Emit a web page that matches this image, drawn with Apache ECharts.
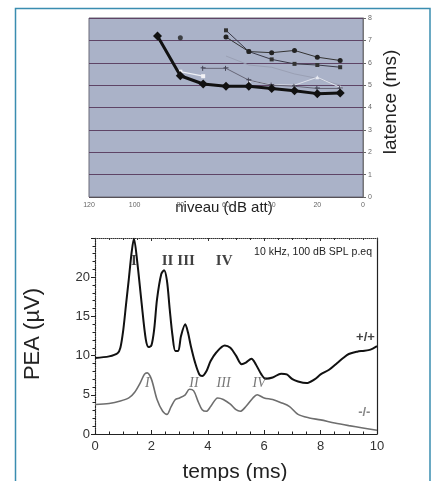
<!DOCTYPE html>
<html><head><meta charset="utf-8">
<script src="https://cdn.jsdelivr.net/npm/echarts@6/dist/echarts.min.js"></script>
<style>html,body{margin:0;padding:0;background:#fff}#c{width:433px;height:481px}</style>
</head><body><div id="c"></div>
<script>
// ---------- top chart: latency vs level ----------
const levelMin = 0, levelMax = 120, levelStep = 20;
const latMin = 0, latMax = 8, latStep = 1;
const latThick   = [[90,7.2],[80,5.42],[70,5.05],[60,4.95],[50,4.95],[40,4.85],[30,4.75],[20,4.62],[10,4.65]];
const latSingle  = [[80,7.12]];
const latCircles = [[60,7.15],[50,6.5],[40,6.45],[30,6.55],[20,6.25],[10,6.1]];
const latCross   = [[60,7.45],[50,6.5],[40,6.15],[30,5.95],[20,5.9],[10,5.8]];
const latFaint   = [[60,6.3],[50,5.9],[40,5.8],[30,5.5],[20,5.3],[10,5.0]];
const latPlus    = [[70,5.75],[60,5.75],[50,5.22],[40,5.0],[30,4.95],[20,4.85],[10,4.85]];
const latLight   = [[80,5.6],[70,5.4]];
const latTri     = [[50,5.2],[40,5.02],[30,5.0],[20,5.35],[10,4.9]];

// ---------- bottom chart: ABR waveforms ----------
const timeMin = 0, timeMax = 10, timeStep = 2;
const peaMin = 0, peaMax = 25, peaStep = 5;
const wildType = [[0,9.7],[0.5,9.9],[0.8,10.3],[0.9,11],[1.0,13.2],[1.1,16.5],[1.2,19.8],[1.3,23.2],[1.38,24.9],[1.5,21.9],[1.65,16.8],[1.8,12.1],[1.9,11.1],[2.0,11.3],[2.1,13.4],[2.2,17.2],[2.35,20.4],[2.45,20.9],[2.55,19.6],[2.65,15.9],[2.75,12.5],[2.85,10.6],[2.95,10.6],[3.05,12.5],[3.2,14.0],[3.3,12.9],[3.4,11.2],[3.55,9.1],[3.7,7.6],[3.8,7.4],[3.95,8.0],[4.1,9.3],[4.3,10.4],[4.6,11.3],[4.8,11.0],[5.0,10.0],[5.2,8.9],[5.35,9.1],[5.55,9.6],[5.7,8.9],[5.9,7.6],[6.05,7.05],[6.3,7.2],[6.6,7.7],[6.8,7.6],[7.0,7.0],[7.2,6.7],[7.5,6.5],[7.8,7.0],[8.0,7.6],[8.3,8.2],[8.6,9.1],[8.8,9.7],[9.0,10.2],[9.3,10.5],[9.5,10.6],[9.7,10.7],[9.85,10.9],[10,11.2]];
const mutant = [[0,3.76],[0.5,3.9],[0.9,4.2],[1.2,4.6],[1.4,5.3],[1.6,6.5],[1.75,7.6],[1.85,7.8],[2.0,7.0],[2.2,4.4],[2.4,2.9],[2.55,2.5],[2.7,3.5],[2.85,4.4],[3.0,4.6],[3.2,5.0],[3.35,5.7],[3.5,5.5],[3.65,4.2],[3.8,3.1],[3.95,2.9],[4.1,3.5],[4.35,4.6],[4.55,4.4],[4.8,3.8],[5.0,3.1],[5.15,2.9],[5.35,3.5],[5.6,4.6],[5.75,5.0],[6.0,4.6],[6.3,4.4],[6.6,4.0],[6.9,3.5],[7.2,2.5],[7.6,2.05],[8.0,1.8],[8.5,1.4],[9.0,1.07],[9.5,0.77],[10,0.47]];
const wtWaveLabels  = [{name:'I',value:[1.38,22]},{name:'II',value:[2.57,22]},{name:'III',value:[3.23,22]},{name:'IV',value:[4.58,22]}];
const mutWaveLabels = [{name:'I',value:[1.86,6.5]},{name:'II',value:[3.51,6.5]},{name:'III',value:[4.56,6.5]},{name:'IV',value:[5.82,6.5]}];
const genotypeLabels = [{name:'+/+',value:[9.59,12.3],c:'#111'},{name:'-/-',value:[9.55,2.8],c:'#666'}];

const chart = echarts.init(document.getElementById('c'), null, {renderer:'canvas'});
const SANS = 'Liberation Sans, Arial, sans-serif';
const SERIF = 'Liberation Serif, Times New Roman, serif';

function labelSeries(data, xi, yi, font, color, weight, style){
  return {type:'scatter', xAxisIndex:xi, yAxisIndex:yi, symbolSize:0, silent:true, z:5,
    data:data.map(d=>({name:d.name,value:d.value,label:{color:d.c||color}})),
    label:{show:true, position:'inside', formatter:p=>p.name, fontFamily:font, fontSize:style.size,
      fontWeight:weight, fontStyle:style.italic?'italic':'normal', color:color}};
}

chart.setOption({
  animation:false,
  backgroundColor:'#fff',
  grid:[
    {left:89, top:18, width:274, height:179, show:true, backgroundColor:'#aab2c8', borderColor:'#6b6b78', borderWidth:1},
    {left:95, top:238, width:282, height:196, show:false}
  ],
  xAxis:[
    {gridIndex:0, type:'value', min:levelMin, max:levelMax, interval:levelStep, inverse:true,
     axisLine:{show:true, lineStyle:{color:'#555', type:'dotted'}}, axisTick:{show:false}, splitLine:{show:false},
     axisLabel:{fontSize:7, color:'#666', margin:5, fontFamily:SANS}},
    {gridIndex:1, type:'value', min:timeMin, max:timeMax, interval:timeStep,
     axisLine:{show:true, onZero:false, lineStyle:{color:'#222', width:1.2}},
     axisTick:{show:true, inside:true, length:4, lineStyle:{color:'#222'}},
     minorTick:{show:true, splitNumber:4, length:2.5, lineStyle:{color:'#222'}},
     splitLine:{show:false},
     axisLabel:{fontSize:13, color:'#333', margin:6, fontFamily:SANS}},
    {gridIndex:1, type:'value', position:'top', min:timeMin, max:timeMax, interval:timeStep,
     axisLine:{show:true, onZero:false, lineStyle:{color:'#333', width:1, type:'dotted'}},
     axisTick:{show:true, inside:true, length:3, lineStyle:{color:'#333'}},
     minorTick:{show:true, splitNumber:4, length:2, lineStyle:{color:'#333'}},
     splitLine:{show:false}, axisLabel:{show:false}}
  ],
  yAxis:[
    {gridIndex:0, type:'value', position:'right', min:latMin, max:latMax, interval:latStep,
     axisLine:{show:true, lineStyle:{color:'#777'}}, axisTick:{show:true, length:3, lineStyle:{color:'#666'}},
     splitLine:{show:true, lineStyle:{color:'#5e4466', width:1.2}},
     axisLabel:{fontSize:7, color:'#666', margin:5, fontFamily:SANS}},
    {gridIndex:1, type:'value', min:peaMin, max:peaMax, interval:peaStep,
     axisLine:{show:true, onZero:false, lineStyle:{color:'#222', width:1.2, type:'dotted'}},
     axisTick:{show:true, length:4, lineStyle:{color:'#222'}},
     minorTick:{show:true, splitNumber:5, length:2.5, lineStyle:{color:'#222'}},
     splitLine:{show:false},
     axisLabel:{fontSize:13, color:'#333', margin:5, fontFamily:SANS, formatter:v=>v===25?'':String(v)}},
    {gridIndex:1, type:'value', position:'right', min:peaMin, max:peaMax, interval:peaStep,
     axisLine:{show:true, onZero:false, lineStyle:{color:'#222', width:1.2}},
     axisTick:{show:false}, splitLine:{show:false}, axisLabel:{show:false}}
  ],
  series:[
    {type:'line', xAxisIndex:0, yAxisIndex:0, data:latFaint, symbol:'none', lineStyle:{color:'#9aa0b4', width:1}, z:2},
    {type:'line', xAxisIndex:0, yAxisIndex:0, data:latTri, symbol:'triangle', symbolSize:4, itemStyle:{color:'#e8eaf2'}, lineStyle:{color:'#dfe2ec', width:1}, z:2},
    {type:'line', xAxisIndex:0, yAxisIndex:0, data:latPlus, symbol:'path://M0,4H10M4,0V10', symbolSize:5, itemStyle:{color:'#556', borderColor:'#445'}, lineStyle:{color:'#667', width:1}, z:3},
    {type:'line', xAxisIndex:0, yAxisIndex:0, data:latLight, symbol:'rect', symbolSize:4, itemStyle:{color:'#f2f2f6'}, lineStyle:{color:'#eef0f6', width:1.2}, z:3},
    {type:'line', xAxisIndex:0, yAxisIndex:0, data:latCross, symbol:'rect', symbolSize:4, itemStyle:{color:'#333'}, lineStyle:{color:'#3a3a48', width:1}, z:3},
    {type:'line', xAxisIndex:0, yAxisIndex:0, data:latCircles, symbol:'circle', symbolSize:5, itemStyle:{color:'#222'}, lineStyle:{color:'#333', width:1}, z:3},
    {type:'scatter', xAxisIndex:0, yAxisIndex:0, data:latSingle, symbol:'circle', symbolSize:5, itemStyle:{color:'#222'}, z:3},
    {type:'line', xAxisIndex:0, yAxisIndex:0, data:latThick, symbol:'diamond', symbolSize:9, itemStyle:{color:'#111'}, lineStyle:{color:'#111', width:3}, z:4},

    {type:'line', xAxisIndex:1, yAxisIndex:1, data:mutant, symbol:'none', smooth:0.3, lineStyle:{color:'#6e6e6e', width:1.6}, z:3},
    {type:'line', xAxisIndex:1, yAxisIndex:1, data:wildType, symbol:'none', smooth:0.3, lineStyle:{color:'#111', width:2}, z:4},
    labelSeries(wtWaveLabels, 1, 1, SERIF, '#111', 'bold', {size:15}),
    labelSeries(mutWaveLabels, 1, 1, SERIF, '#555', 'normal', {size:14, italic:true}),
    labelSeries(genotypeLabels, 1, 1, SANS, '#111', 'bold', {size:13})
  ],
  graphic:[
    {type:'rect', shape:{x:15.5, y:8.5, width:414.5, height:490}, style:{fill:null, stroke:'#3a8db0', lineWidth:1.5}, silent:true},
    {type:'text', x:391, y:102, rotation:Math.PI/2, style:{text:'latence (ms)', font:'19px '+SANS, fill:'#222', align:'center', verticalAlign:'middle'}},
    {type:'text', x:224, y:208, style:{text:'niveau (dB att)', font:'15px '+SANS, fill:'#222', align:'center', verticalAlign:'middle'}},
    {type:'text', x:33, y:334, rotation:Math.PI/2, style:{text:'PEA (µV)', font:'22px '+SANS, fill:'#222', align:'center', verticalAlign:'middle'}},
    {type:'text', x:235, y:472, style:{text:'temps (ms)', font:'21px '+SANS, fill:'#222', align:'center', verticalAlign:'middle'}},
    {type:'text', x:372, y:252, style:{text:'10 kHz, 100 dB SPL p.eq', font:'10.5px '+SANS, fill:'#222', align:'right', verticalAlign:'middle'}}
  ]
});
</script></body></html>
